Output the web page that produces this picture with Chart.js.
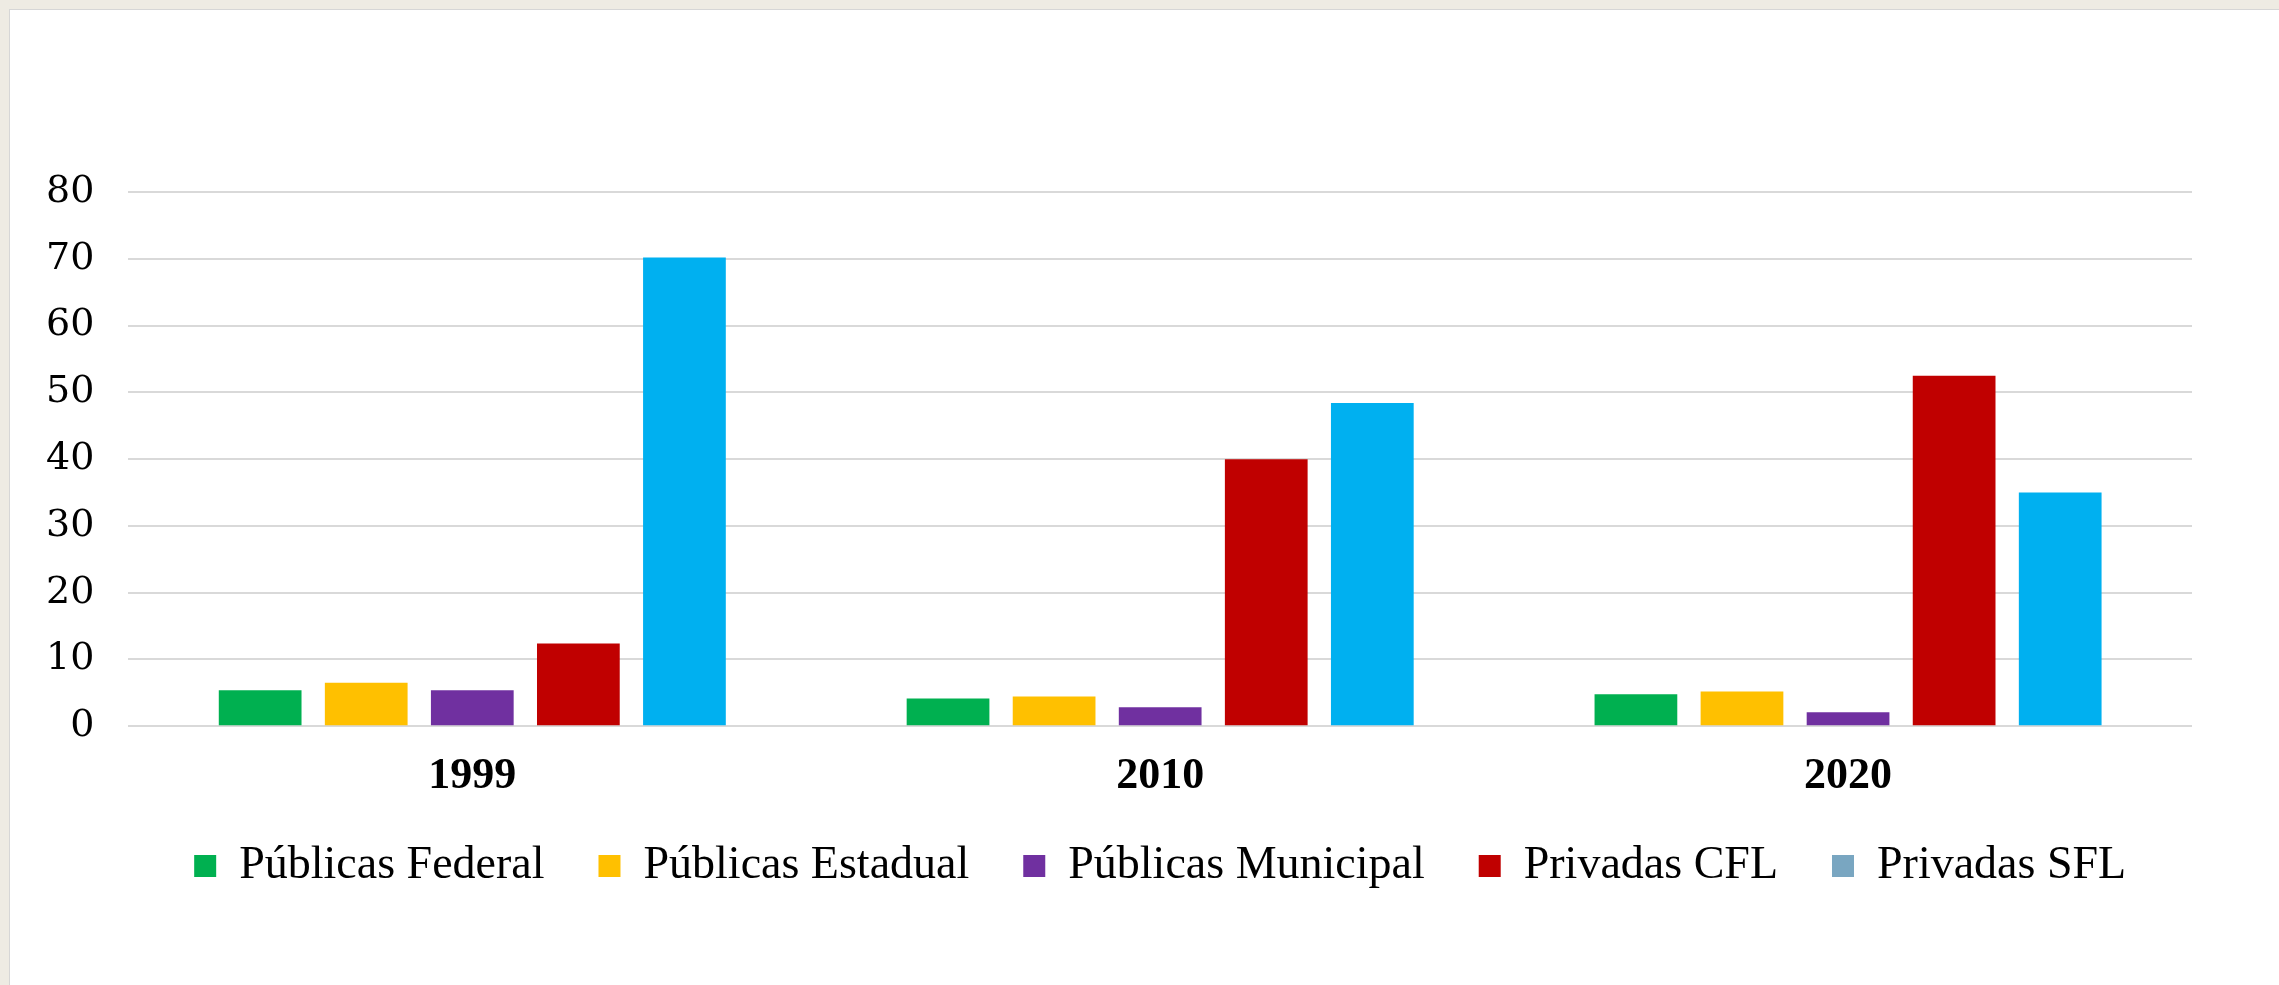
<!DOCTYPE html>
<html>
<head>
<meta charset="utf-8">
<script src="https://cdn.jsdelivr.net/npm/chart.js@4/dist/chart.umd.min.js"></script>
<style>
  html, body { margin: 0; padding: 0; background: #EEEBE3; overflow: hidden; }
  #panel {
    position: absolute; left: 9px; top: 9px; width: 2270px; height: 976px;
    background: #fff; border-left: 1px solid #d6d6d6; border-top: 1px solid #d6d6d6;
  }
  #chart { position: absolute; left: 0; top: 0; }
</style>
</head>
<body>
<div id="panel"><canvas id="chart" width="2269" height="975"></canvas></div>
<script>
const years = ["1999", "2010", "2020"];
const seriesNames = ["Públicas Federal", "Públicas Estadual", "Públicas Municipal", "Privadas CFL", "Privadas SFL"];
const federal = [5.4, 4.15, 4.8];
const estadual = [6.5, 4.45, 5.2];
const municipal = [5.4, 2.85, 2.1];
const privadasCFL = [12.4, 40.0, 52.5];
const privadasSFL = [70.2, 48.4, 35.0];
const yTicks = [0, 10, 20, 30, 40, 50, 60, 70, 80];

const barColors = ["#00B050", "#FFC000", "#7030A0", "#C00000", "#00B0F0"];
const legendColors = ["#00B050", "#FFC000", "#7030A0", "#C00000", "#79A6C1"];

const values = [federal, estadual, municipal, privadasCFL, privadasSFL];

const datasets = values.map((v, i) => ({
  label: seriesNames[i],
  data: v,
  backgroundColor: barColors[i],
  borderWidth: 0,
  categoryPercentage: 0.771,
  barPercentage: 0.78
}));

new Chart(document.getElementById("chart"), {
  type: "bar",
  data: { labels: years, datasets },
  options: {
    responsive: false,
    animation: false,
    layout: { padding: { left: 2, right: 87, top: 182, bottom: 86 } },
    plugins: {
      tooltip: { enabled: false },
      legend: {
        position: "bottom",
        fullSize: false,
        // empty title with negative padding pulls the legend row up under the year labels
        title: { display: true, text: "", font: { size: 10 }, padding: { top: 0, bottom: -50 } },
        labels: {
          boxWidth: 22,
          boxHeight: 22,
          padding: 54,
          color: "#000",
          font: { family: "'Liberation Serif', serif", size: 46 },
          generateLabels: chart => {
            const items = Chart.defaults.plugins.legend.labels.generateLabels(chart);
            items.forEach((it, i) => {
              it.fillStyle = legendColors[i];
              it.strokeStyle = legendColors[i];
              it.lineWidth = 0;
            });
            return items;
          }
        }
      }
    },
    scales: {
      x: {
        grid: { display: false, drawTicks: false },
        border: { display: false },
        ticks: {
          color: "#000",
          padding: 42,
          font: { family: "'Liberation Serif', serif", size: 44, weight: "bold", lineHeight: 0.38 }
        }
      },
      y: {
        min: 0,
        max: 80,
        afterBuildTicks: axis => { axis.ticks = yTicks.map(v => ({ value: v })); },
        grid: { color: "#D9D9D9", lineWidth: 2, drawTicks: false },
        border: { display: false },
        ticks: {
          color: "#000",
          padding: 34,
          font: { family: "'DejaVu Serif', serif", size: 38 }
        }
      }
    }
  }
});
</script>
</body>
</html>
